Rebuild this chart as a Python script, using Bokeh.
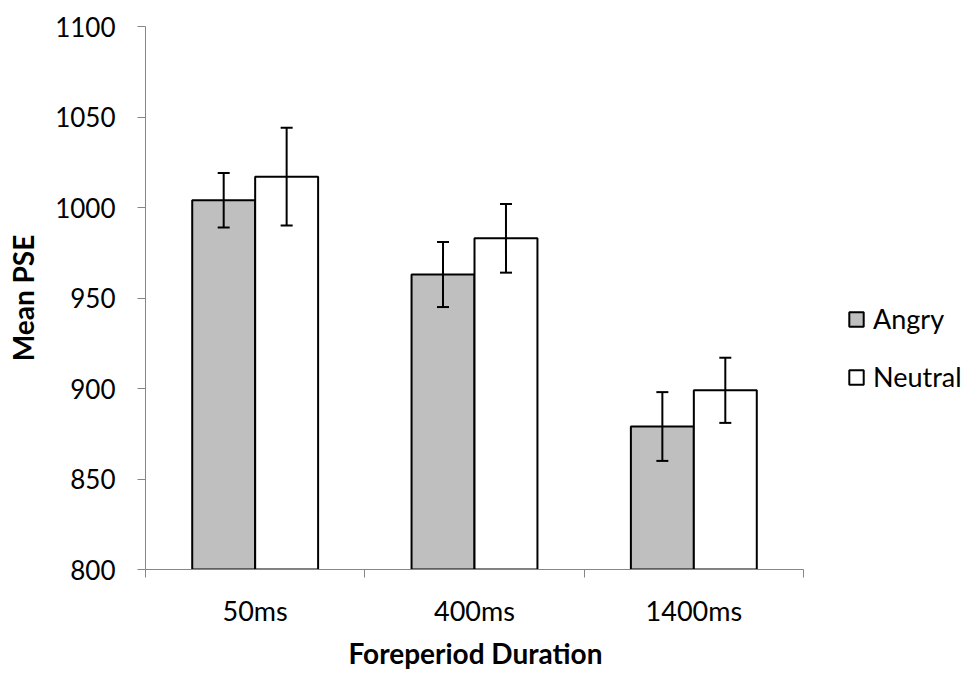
from bokeh.plotting import figure
from bokeh.models import (ColumnDataSource, Range1d, FixedTicker, Legend, LegendItem,
                          Whisker, TeeHead, Title)
from bokeh.embed import file_html
from bokeh.resources import INLINE

# Mean PSE by foreperiod duration and face emotion, with error bars
durations = ["50ms", "400ms", "1400ms"]
angry_mean = [1004, 963, 879]
angry_err = [15, 18, 19]
neutral_mean = [1017, 983, 899]
neutral_err = [27, 19, 18]
y_ticks = [800, 850, 900, 950, 1000, 1050, 1100]

FONT = "Lato"
AXIS_GREY = "#868686"
bar_w = 0.287

n = len(durations)
centers = [i + 0.5 for i in range(n)]
angry_x = [c - bar_w / 2 for c in centers]
neutral_x = [c + bar_w / 2 for c in centers]

angry_src = ColumnDataSource(dict(
    x=angry_x, top=angry_mean,
    upper=[m + e for m, e in zip(angry_mean, angry_err)],
    lower=[m - e for m, e in zip(angry_mean, angry_err)],
))
neutral_src = ColumnDataSource(dict(
    x=neutral_x, top=neutral_mean,
    upper=[m + e for m, e in zip(neutral_mean, neutral_err)],
    lower=[m - e for m, e in zip(neutral_mean, neutral_err)],
))

# The frame runs to the right edge so the legend can sit beside the bars;
# the x axis line itself is bounded to the three groups.
left_px, plot_px, total_w = 145, 658, 972
x_end = n * (total_w - left_px) / plot_px

p = figure(width=total_w, height=673, output_backend="svg", toolbar_location=None,
           x_range=Range1d(0, x_end), y_range=Range1d(800, 1100),
           min_border_left=left_px, min_border_right=0,
           min_border_top=26, min_border_bottom=102)
p.outline_line_color = None
p.xgrid.visible = False
p.ygrid.visible = False
p.background_fill_color = "white"
p.border_fill_color = "white"

r_angry = p.vbar(x="x", top="top", bottom=800, width=bar_w, source=angry_src,
                 fill_color="#BFBFBF", line_color="black", line_width=2)
r_neutral = p.vbar(x="x", top="top", bottom=800, width=bar_w, source=neutral_src,
                   fill_color="white", line_color="black", line_width=2)

for src in (angry_src, neutral_src):
    w = Whisker(source=src, base="x", upper="upper", lower="lower",
                line_color="black", line_width=2, level="annotation",
                upper_head=TeeHead(size=12, line_color="black", line_width=2),
                lower_head=TeeHead(size=12, line_color="black", line_width=2))
    p.add_layout(w)

# y axis
yax = p.yaxis[0]
yax.ticker = FixedTicker(ticks=y_ticks)
yax.minor_tick_line_color = None
yax.major_tick_out = 8
yax.major_tick_in = 0
yax.axis_line_color = AXIS_GREY
yax.major_tick_line_color = AXIS_GREY
yax.major_label_text_font = FONT
yax.major_label_text_font_size = "26px"
yax.major_label_text_color = "black"
yax.major_label_standoff = 22
yax.axis_label = "Mean PSE"
yax.axis_label_text_font = FONT
yax.axis_label_text_font_style = "bold"
yax.axis_label_text_font_size = "28px"
yax.axis_label_text_color = "black"
yax.axis_label_standoff = 12

# x axis: labels at group centres, tick marks at group boundaries
xax = p.xaxis[0]
xax.bounds = (0, n)
xax.ticker = FixedTicker(ticks=centers, minor_ticks=list(range(n + 1)))
xax.major_label_overrides = {c: d for c, d in zip(centers, durations)}
xax.major_tick_line_color = None
xax.major_tick_out = 0
xax.major_tick_in = 0
xax.minor_tick_out = 8
xax.minor_tick_in = 0
xax.minor_tick_line_color = AXIS_GREY
xax.axis_line_color = AXIS_GREY
xax.major_label_text_font = FONT
xax.major_label_text_font_size = "27px"
xax.major_label_text_color = "black"
xax.major_label_standoff = 16

# x axis title, centred under the three groups rather than the whole frame
x_title = Title(text="Foreperiod Duration", align="left", offset=203,
                text_font=FONT, text_font_size="28px", text_font_style="bold",
                text_color="black", standoff=8)
p.add_layout(x_title, "below")

legend = Legend(items=[LegendItem(label="Angry", renderers=[r_angry]),
                       LegendItem(label="Neutral", renderers=[r_neutral])],
                location=(702, 176), orientation="vertical",
                glyph_width=18, glyph_height=18, label_standoff=8,
                label_text_font=FONT, label_text_font_size="27px",
                label_text_color="black",
                label_height=30, spacing=25, padding=0,
                border_line_color=None, background_fill_alpha=0)
p.add_layout(legend)

open("out.html", "w").write(file_html(p, INLINE))
